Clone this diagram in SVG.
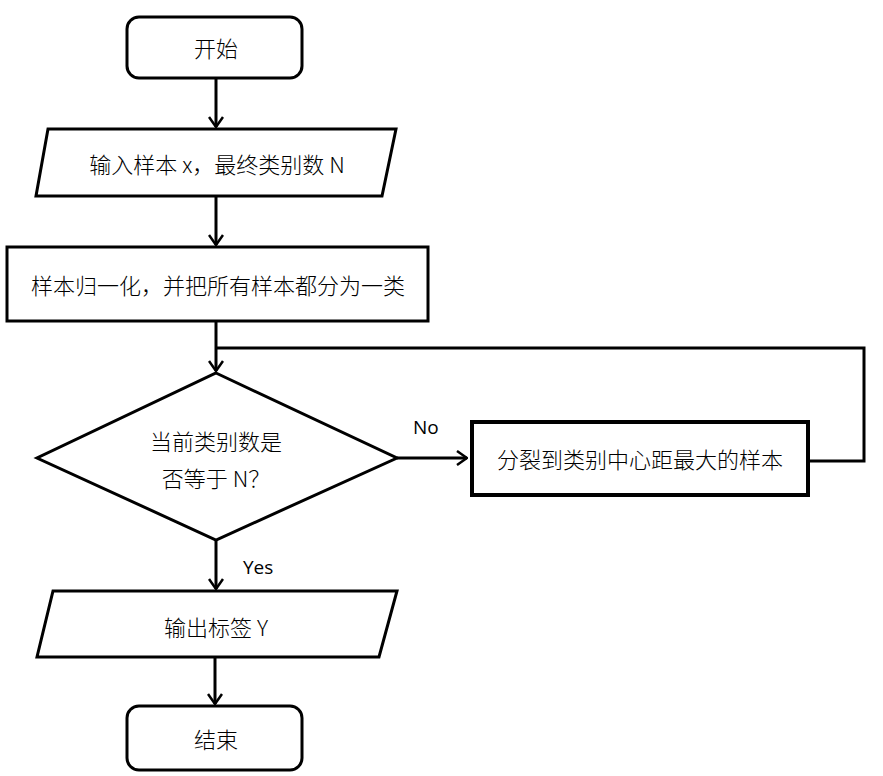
<svg xmlns="http://www.w3.org/2000/svg" width="883" height="776" viewBox="0 0 883 776">
<style>
.s{fill:#fff;stroke:#000;stroke-width:3}
.t{font-family:"Noto Sans CJK SC","Liberation Sans",sans-serif;font-size:22px;font-weight:300;fill:#000;text-anchor:middle;dominant-baseline:central}
.l{font-family:"Open Sans","Liberation Sans",sans-serif;font-size:19px;fill:#000}
.c{fill:none;stroke:#000;stroke-width:3}
</style>
<defs>
<marker id="a" viewBox="0 0 12 16" refX="11" refY="8" markerWidth="12" markerHeight="16" markerUnits="userSpaceOnUse" orient="auto">
<polyline points="1,1 11,8 1,15" fill="none" stroke="#000" stroke-width="2.5"/>
</marker>
</defs>
<g id="connectors">
<line class="c" x1="216" y1="78" x2="216" y2="127" marker-end="url(#a)"/>
<line class="c" x1="216" y1="196" x2="216" y2="245" marker-end="url(#a)"/>
<line class="c" x1="216" y1="322" x2="216" y2="371" marker-end="url(#a)"/>
<polyline class="c" points="809,461 864,461 864,348 216,348"/>
<line class="c" x1="397" y1="458" x2="467" y2="458" marker-end="url(#a)"/>
<line class="c" x1="216" y1="540" x2="216" y2="589" marker-end="url(#a)"/>
<line class="c" x1="215" y1="657" x2="215" y2="704" marker-end="url(#a)"/>
<text class="l" x="413" y="434">No</text>
<text class="l" x="243" y="574">Yes</text>
</g>
<g id="start">
<rect class="s" x="127" y="17" width="175" height="61" rx="12"/>
<text class="t" x="216" y="47">开始</text>
</g>
<g id="input">
<polygon class="s" points="48,129 396,129 382,196 36,196"/>
<text class="t" x="217" y="163">输入样本 x，最终类别数 N</text>
</g>
<g id="normalize">
<rect class="s" x="7" y="247" width="421" height="74"/>
<text class="t" x="218" y="284">样本归一化，并把所有样本都分为一类</text>
</g>
<g id="decision">
<polygon class="s" points="216,373 397,458 216,540 37,458"/>
<text class="t" x="216" y="440">当前类别数是</text>
<text class="t" x="216" y="477">否等于 N？</text>
</g>
<g id="split">
<rect class="s" x="472" y="422" width="336" height="73" style="stroke-width:4"/>
<text class="t" x="640" y="458">分裂到类别中心距最大的样本</text>
</g>
<g id="output">
<polygon class="s" points="53,591 397,591 379,657 37,657"/>
<text class="t" x="216" y="626">输出标签 Y</text>
</g>
<g id="end">
<rect class="s" x="127" y="706" width="175" height="64" rx="12"/>
<text class="t" x="216" y="738">结束</text>
</g>
</svg>
